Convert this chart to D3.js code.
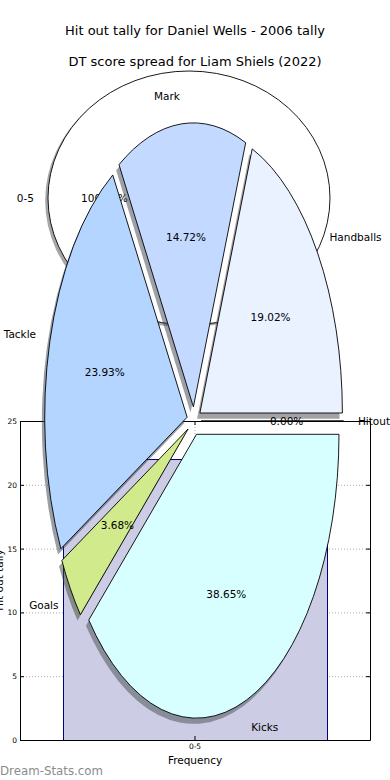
<!DOCTYPE html>
<html>
<head>
<meta charset="utf-8">
<script src="https://cdn.jsdelivr.net/npm/d3@7"></script>
<style>
  body { margin: 0; background: #fff; }
  svg { display: block; font-family: "DejaVu Sans", sans-serif; }
</style>
</head>
<body>
<div id="wrapper"></div>
<script>
// Data
const barCategories = ["0-5"]
const barValues = [22]
const yTicks = [0, 5, 10, 15, 20, 25]

const hitoutLabels = ["0-5"]
const hitoutValues = [100]

const dtLabels = ["Handballs", "Mark", "Tackle", "Goals", "Kicks", "Hitout"]
const dtValues = [19.02, 14.72, 23.93, 3.68, 38.65, 0]
const dtColors = ["#eaf1ff", "#c4d9ff", "#b3d5ff", "#d0ea8c", "#d8ffff", "#e8e8ff"]

function drawChart() {

    const dimensions = {
        width: 390,
        height: 780,
        margin: { top: 421, right: 20, bottom: 40, left: 20 },
    }
    dimensions.boundedWidth = dimensions.width - dimensions.margin.left - dimensions.margin.right
    dimensions.boundedHeight = dimensions.height - dimensions.margin.top - dimensions.margin.bottom

    const wrapper = d3.select("#wrapper")
        .append("svg")
        .attr("width", dimensions.width)
        .attr("height", dimensions.height)

    // ---- Bar chart (background) ----
    const bounds = wrapper.append("g")
        .attr("transform", `translate(${dimensions.margin.left}, ${dimensions.margin.top})`)

    const xScale = d3.scaleBand()
        .domain(barCategories)
        .range([0, dimensions.boundedWidth])
        .paddingOuter(0.163)

    const yScale = d3.scaleLinear()
        .domain([0, 25])
        .range([dimensions.boundedHeight, 0])

    // grid
    bounds.append("g")
        .call(d3.axisLeft(yScale).tickValues(yTicks).tickSize(-dimensions.boundedWidth).tickFormat(""))
        .call(g => g.select(".domain").remove())
        .selectAll("line")
            .attr("stroke", "#999")
            .attr("stroke-dasharray", "1,2")
            .attr("stroke-width", 0.8)
    bounds.append("g")
        .attr("transform", `translate(0, ${dimensions.boundedHeight})`)
        .call(d3.axisBottom(xScale).tickSize(-dimensions.boundedHeight).tickFormat(""))
        .call(g => g.select(".domain").remove())
        .selectAll("line")
            .attr("stroke", "#999")
            .attr("stroke-dasharray", "1,2")
            .attr("stroke-width", 0.8)

    bounds.append("g")
        .selectAll("rect")
        .data(barValues)
        .join("rect")
            .attr("x", (d, i) => Math.round(xScale(barCategories[i])) + 0.5)
            .attr("y", d => Math.round(yScale(d)) + 0.5)
            .attr("width", Math.round(xScale.bandwidth()))
            .attr("height", d => Math.round(yScale(0) - yScale(d)))
            .attr("fill", "#cccce4")
            .attr("stroke", "#000080")
            .attr("stroke-width", 1)

    // axes
    const yAxis = bounds.append("g")
        .call(d3.axisLeft(yScale).tickValues(yTicks).tickSizeInner(-4).tickSizeOuter(0).tickPadding(3))
    const yAxisRight = bounds.append("g")
        .attr("transform", `translate(${dimensions.boundedWidth}, 0)`)
        .call(d3.axisRight(yScale).tickValues(yTicks).tickSizeInner(-4).tickSizeOuter(0).tickFormat(""))
    const xAxis = bounds.append("g")
        .attr("transform", `translate(0, ${dimensions.boundedHeight})`)
        .call(d3.axisBottom(xScale).tickSizeInner(-4).tickSizeOuter(0).tickPadding(4))
    const xAxisTop = bounds.append("g")
        .call(d3.axisTop(xScale).tickSizeInner(-4).tickSizeOuter(0).tickFormat(""))
    ;[yAxis, yAxisRight, xAxis, xAxisTop].forEach(a => {
        a.selectAll("text")
            .attr("font-family", "DejaVu Sans")
            .attr("font-size", 7.5)
            .attr("fill", "#000")
        a.selectAll("line, path").attr("stroke", "#000")
    })

    bounds.append("text")
        .attr("x", dimensions.boundedWidth / 2)
        .attr("y", dimensions.boundedHeight + 24)
        .attr("text-anchor", "middle")
        .attr("font-size", 10.5)
        .text("Frequency")

    // y label sits partly outside the canvas, as in the original
    wrapper.append("text")
        .attr("transform", `translate(3, 580) rotate(-90)`)
        .attr("text-anchor", "middle")
        .attr("font-size", 10.5)
        .text("Hit out tally")

    // ---- Pie helpers ----
    const arc = d3.arc().innerRadius(0).outerRadius(1)
    const pieGen = d3.pie()
        .sort(null)
        .value(d => d)
        .startAngle(Math.PI / 2)
        .endAngle(Math.PI / 2 - 2 * Math.PI)

    function shade(c) {
        const col = d3.rgb(c)
        return d3.rgb(col.r * 0.3, col.g * 0.3, col.b * 0.3).toString()
    }

    function drawPie({ values, labels, colors, cx, cy, rx, ry, explode }) {
        const arcs = pieGen(values)
        const px = u => cx + u * rx
        const py = v => cy + v * ry
        const mid = d => (d.startAngle + d.endAngle) / 2
        const ex = d => Math.sin(mid(d)) * explode
        const ey = d => -Math.cos(mid(d)) * explode
        const full = arcs.length === 1

        const g = wrapper.append("g")

        // shadows
        g.append("g")
            .selectAll("path")
            .data(arcs)
            .join("path")
                .attr("transform", d => `translate(${px(ex(d) - 0.02)}, ${py(ey(d) + 0.02)}) scale(${rx}, ${ry})`)
                .attr("d", d => full ? arc({ startAngle: 0, endAngle: 2 * Math.PI }) : arc(d))
                .attr("fill", (d, i) => shade(colors[i]))
                .attr("fill-opacity", 0.5)
                .attr("stroke", "none")

        // wedges
        g.append("g")
            .selectAll("path")
            .data(arcs)
            .join("path")
                .attr("transform", d => `translate(${px(ex(d))}, ${py(ey(d))}) scale(${rx}, ${ry})`)
                .attr("d", d => full ? arc({ startAngle: 0, endAngle: 2 * Math.PI }) : arc(d))
                .attr("fill", (d, i) => colors[i])
                .attr("stroke", "#000")
                .attr("stroke-width", 0.9)
                .attr("vector-effect", "non-scaling-stroke")

        // labels
        g.append("g")
            .selectAll("text")
            .data(arcs)
            .join("text")
                .attr("x", d => px(ex(d) + 1.1 * Math.sin(mid(d))))
                .attr("y", d => py(ey(d) - 1.1 * Math.cos(mid(d))))
                .attr("text-anchor", d => Math.sin(mid(d)) < -1e-9 ? "end" : "start")
                .attr("dominant-baseline", "central")
                .attr("font-size", 10.5)
                .text((d, i) => labels[i])

        g.append("g")
            .selectAll("text")
            .data(arcs)
            .join("text")
                .attr("x", d => px(ex(d) + 0.6 * Math.sin(mid(d))))
                .attr("y", d => py(ey(d) - 0.6 * Math.cos(mid(d))))
                .attr("text-anchor", "middle")
                .attr("dominant-baseline", "central")
                .attr("font-size", 10.5)
                .text(d => d.data.toFixed(2) + "%")
    }

    drawPie({
        values: hitoutValues, labels: hitoutLabels, colors: ["#ffffff"],
        cx: 189, cy: 198, rx: 141, ry: 127, explode: 0,
    })

    drawPie({
        values: dtValues, labels: dtLabels, colors: dtColors,
        cx: 194, cy: 421, rx: 142.5, ry: 284, explode: 0.05,
    })

    // ---- Titles ----
    wrapper.append("text")
        .attr("x", 195).attr("y", 30)
        .attr("text-anchor", "middle")
        .attr("dominant-baseline", "central")
        .attr("font-size", 13)
        .text("Hit out tally for Daniel Wells - 2006 tally")

    wrapper.append("text")
        .attr("x", 195).attr("y", 61)
        .attr("text-anchor", "middle")
        .attr("dominant-baseline", "central")
        .attr("font-size", 13)
        .text("DT score spread for Liam Shiels (2022)")

    // watermark
    wrapper.append("text")
        .attr("x", 0).attr("y", 775)
        .attr("font-size", 11.8)
        .attr("fill", "#8c8c8c")
        .text("Dream-Stats.com")
}
drawChart()
</script>
</body>
</html>
